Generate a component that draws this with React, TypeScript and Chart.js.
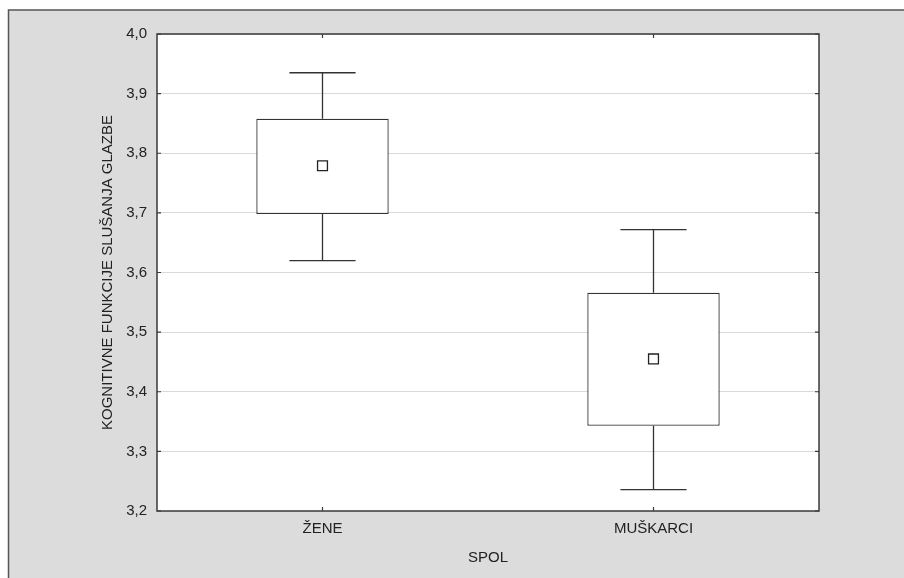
import React, { useEffect, useRef } from "react";
import { Chart, registerables } from "chart.js";

Chart.register(...registerables);

const categories = ["ŽENE", "MUŠKARCI"];
const means = [3.779, 3.455];
const boxLow = [3.698, 3.343];
const boxHigh = [3.858, 3.566];
const whiskerLow = [3.62, 3.236];
const whiskerHigh = [3.935, 3.672];
const yMin = 3.2;
const yMax = 4.0;
const yStep = 0.1;
const xTitle = "SPOL";
const yTitle = "KOGNITIVNE FUNKCIJE SLUŠANJA GLAZBE";

const FONT = "'Liberation Sans', Arial, sans-serif";
const INK = "#333333";

const framePlugin = {
  id: "frame",
  beforeDraw(chart: any) {
    const { ctx, width, height, chartArea } = chart;
    ctx.save();
    ctx.fillStyle = "#ffffff";
    ctx.fillRect(0, 0, width, height);
    ctx.fillStyle = "#dcdcdd";
    ctx.fillRect(8.5, 10, width - 8.5, height - 10);
    ctx.strokeStyle = "#555555";
    ctx.lineWidth = 1.5;
    ctx.beginPath();
    ctx.moveTo(8.5, height);
    ctx.lineTo(8.5, 10);
    ctx.lineTo(width, 10);
    ctx.stroke();
    ctx.fillStyle = "#ffffff";
    ctx.fillRect(chartArea.left, chartArea.top, chartArea.right - chartArea.left, chartArea.bottom - chartArea.top);
    ctx.restore();
  },
  afterDatasetsDraw(chart: any) {
    const { ctx, scales } = chart;
    const y = scales.y;
    const meta = chart.getDatasetMeta(1);
    ctx.save();
    ctx.strokeStyle = INK;
    ctx.lineWidth = 1.3;
    meta.data.forEach((bar: any, i: number) => {
      const x = bar.x;
      const capHalf = bar.width * 0.25;
      const yTop = y.getPixelForValue(boxHigh[i]);
      const yBot = y.getPixelForValue(boxLow[i]);
      const yWh = y.getPixelForValue(whiskerHigh[i]);
      const yWl = y.getPixelForValue(whiskerLow[i]);
      ctx.beginPath();
      ctx.moveTo(x, yTop);
      ctx.lineTo(x, yWh);
      ctx.moveTo(x - capHalf, yWh);
      ctx.lineTo(x + capHalf, yWh);
      ctx.moveTo(x, yBot);
      ctx.lineTo(x, yWl);
      ctx.moveTo(x - capHalf, yWl);
      ctx.lineTo(x + capHalf, yWl);
      ctx.stroke();
    });
    ctx.restore();
  },
  afterDraw(chart: any) {
    const { ctx, chartArea, scales } = chart;
    const { left, right, top, bottom } = chartArea;
    ctx.save();
    ctx.strokeStyle = "#3a3a3a";
    ctx.lineWidth = 1.5;
    ctx.strokeRect(left, top, right - left, bottom - top);
    ctx.lineWidth = 1.2;
    ctx.beginPath();
    scales.y.ticks.forEach((t: any) => {
      const py = scales.y.getPixelForValue(t.value);
      ctx.moveTo(left, py);
      ctx.lineTo(left + 4, py);
      ctx.moveTo(right, py);
      ctx.lineTo(right - 4, py);
    });
    categories.forEach((_c, i) => {
      const px = scales.x.getPixelForValue(i);
      ctx.moveTo(px, bottom);
      ctx.lineTo(px, bottom - 4);
      ctx.moveTo(px, top);
      ctx.lineTo(px, top + 4);
    });
    ctx.stroke();
    ctx.restore();
  },
};

export default function App() {
  const ref = useRef<HTMLCanvasElement | null>(null);
  useEffect(() => {
    if (!ref.current) return;
    const chart = new Chart(ref.current, {
      type: "bar",
      data: {
        labels: categories,
        datasets: [
          {
            type: "line",
            label: "Mean",
            data: means,
            showLine: false,
            pointStyle: "rect",
            pointRadius: 7,
            pointBackgroundColor: "#ffffff",
            pointBorderColor: "#222222",
            pointBorderWidth: 1.3,
            order: 0,
          } as any,
          {
            type: "bar",
            label: "Box",
            data: boxLow.map((lo, i) => [lo, boxHigh[i]]),
            backgroundColor: "#ffffff",
            borderColor: INK,
            borderWidth: 1.3,
            borderSkipped: false,
            barPercentage: 0.4,
            categoryPercentage: 1,
            order: 1,
          } as any,
        ],
      },
      options: {
        responsive: false,
        animation: false,
        layout: { padding: { left: 0, top: 34, right: 85, bottom: 0 } },
        plugins: {
          legend: { display: false },
          tooltip: { enabled: false },
          title: { display: false },
        },
        scales: {
          x: {
            type: "category",
            offset: true,
            grid: { display: false, drawTicks: false },
            border: { display: false },
            ticks: {
              padding: 9,
              color: "#222222",
              font: { family: FONT, size: 15 },
            },
            title: {
              display: true,
              text: xTitle,
              color: "#222222",
              font: { family: FONT, size: 15 },
              padding: { top: 0, bottom: 11.5 },
            },
            afterFit(scale: any) {
              scale.height = 67;
            },
          },
          y: {
            type: "linear",
            min: yMin,
            max: yMax,
            grid: { color: "#d9d9d9", lineWidth: 1, drawTicks: false },
            border: { display: false },
            ticks: {
              stepSize: yStep,
              padding: 10,
              color: "#222222",
              font: { family: FONT, size: 15 },
              callback: (v: any) => Number(v).toFixed(1).replace(".", ","),
            },
            title: {
              display: true,
              text: yTitle,
              color: "#222222",
              font: { family: FONT, size: 15 },
              padding: { top: 99, bottom: 0 },
            },
            afterFit(scale: any) {
              scale.width = 157;
            },
          },
        },
      },
      plugins: [framePlugin],
    });
    return () => chart.destroy();
  }, []);
  return (
    <div style={{ position: "fixed", left: 0, top: 0, width: 904, height: 578 }}>
      <canvas ref={ref} width={904} height={578} style={{ display: "block" }} />
    </div>
  );
}
